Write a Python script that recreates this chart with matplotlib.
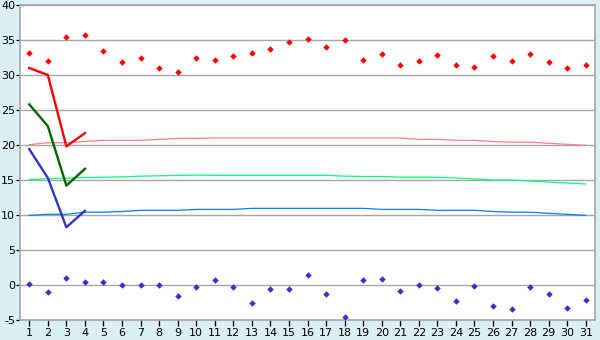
#!/usr/bin/env python3
import matplotlib
matplotlib.use("Agg")
import matplotlib.pyplot as plt
import numpy as np

days = list(range(1, 32))

# daily max / min as scattered points
daily_max = [33.2, 32.0, 35.4, 35.7, 33.5, 31.8, 32.4, 31.0, 30.5, 32.4,
             32.1, 32.7, 33.1, 33.7, 34.7, 35.2, 34.0, 35.0, 32.2, 33.0,
             31.4, 32.0, 32.8, 31.5, 31.2, 32.7, 32.0, 33.0, 31.8, 31.0, 31.5]
daily_min = [0.1, -1.05, 0.95, 0.4, 0.4, 0.0, 0.0, 0.0, -1.6, -0.3,
             0.7, -0.3, -2.6, -0.6, -0.6, 1.4, -1.3, -4.6, 0.7, 0.8,
             -0.9, 0.0, -0.45, -2.3, -0.15, -3.0, -3.45, -0.3, -1.3, -3.3, -2.2]

# first four days, thick lines
obs_days = [1, 2, 3, 4]
obs_high = [31.0, 30.0, 19.8, 21.7]
obs_mean = [25.8, 22.7, 14.2, 16.6]
obs_low = [19.4, 15.3, 8.25, 10.6]

# normals, thin lines
norm_high = [20.05, 20.33, 20.33, 20.5, 20.67, 20.67, 20.67, 20.8, 20.95, 20.95,
             21.0, 21.0, 21.0, 21.0, 21.0, 21.0, 21.0, 21.0, 21.0, 21.0,
             21.0, 20.8, 20.8, 20.67, 20.67, 20.5, 20.4, 20.4, 20.24, 20.1, 19.95]
norm_mean = [15.05, 15.2, 15.25, 15.35, 15.4, 15.45, 15.55, 15.6, 15.65, 15.7,
             15.67, 15.67, 15.67, 15.67, 15.67, 15.67, 15.67, 15.55, 15.5, 15.5,
             15.4, 15.4, 15.4, 15.28, 15.14, 15.0, 15.0, 14.86, 14.71, 14.57, 14.43]
norm_low = [9.95, 10.1, 10.1, 10.4, 10.4, 10.5, 10.67, 10.67, 10.67, 10.8,
            10.8, 10.8, 10.95, 10.95, 10.95, 10.95, 10.95, 10.95, 10.95, 10.8,
            10.8, 10.8, 10.67, 10.67, 10.67, 10.5, 10.4, 10.4, 10.24, 10.1, 9.95]

plt.rcParams["axes.unicode_minus"] = False

bg = "#DAEFF6"
fig = plt.figure(figsize=(6, 3.4), dpi=100, facecolor=bg)
ax = fig.add_axes([20 / 600, 20 / 340, 575 / 600, 315 / 340])
ax.set_facecolor("white")

ax.plot(days, norm_high, color="#FF8080", lw=0.9, zorder=2)
ax.plot(days, norm_mean, color="#00FF80", lw=0.9, zorder=2)
ax.plot(days, norm_low, color="#0080FF", lw=0.9, zorder=2)

ax.plot(obs_days, obs_high, color="#FF0000", lw=1.7, zorder=3)
ax.plot(obs_days, obs_mean, color="#006400", lw=1.7, zorder=3)
ax.plot(obs_days, obs_low, color="#3333CC", lw=1.7, zorder=3)

ax.plot(days, daily_max, ls="none", marker="D", ms=3.3, color="#FF0000", mew=0, zorder=4)
ax.plot(days, daily_min, ls="none", marker="D", ms=3.3, color="#3333CC", mew=0, zorder=4)

ax.set_xlim(0.5, 31.5)
ax.set_ylim(-5, 40)
ax.set_xticks(days)
ax.set_yticks(np.arange(-5, 41, 5))
ax.yaxis.grid(True, color="#A6A6A6", lw=1.0)
ax.set_axisbelow(True)
for s in ax.spines.values():
    s.set_color("#A6A6A6")
    s.set_linewidth(1.2)
ax.tick_params(axis="x", labelsize=8, color="black", length=4, width=0.9, pad=1.5)
ax.tick_params(axis="y", labelsize=8, color="black", length=3, width=0.9, pad=0.5)

fig.savefig("out.png", dpi=100, facecolor=bg)
